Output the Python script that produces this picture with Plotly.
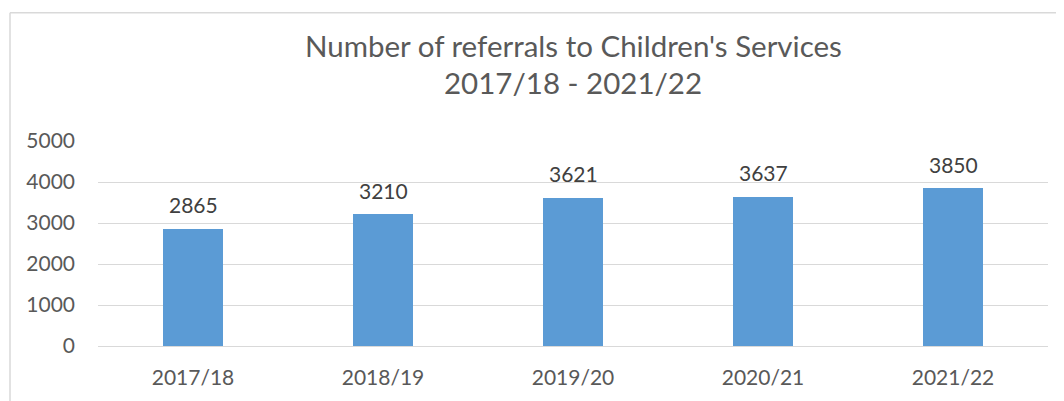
import plotly.graph_objects as go

categories = ["2017/18", "2018/19", "2019/20", "2020/21", "2021/22"]
referrals = [2865, 3210, 3621, 3637, 3850]
title_line1 = "Number of referrals to Children's Services"
title_line2 = "2017/18 - 2021/22"

# page body has an 8px margin; work in figure pixel coords (page - 8)
OFF = 8
W, H = 1064 - OFF, 401 - OFF
ml, mr, mt, mb = 98 - OFF, 16, 140.5 - OFF, 52
ph = H - mt - mb
pw = W - ml - mr

def py(p):
    return (H - mb - (p - OFF)) / ph

def px(p):
    return ((p - OFF) - ml) / pw

FONT = "Lato, Carlito, Calibri, sans-serif"

fig = go.Figure()
fig.add_trace(go.Bar(
    x=categories, y=referrals,
    marker=dict(color="#5B9BD5", line=dict(width=0)),
    width=0.316,
))

annotations = [
    dict(x=c, y=v, xref="x", yref="y", text=str(v), showarrow=False,
         yanchor="middle", xanchor="center", yshift=24,
         font=dict(family=FONT, size=21, color="#404040"))
    for c, v in zip(categories, referrals)
]
annotations += [
    dict(text=title_line1, x=0.5, xref="paper", y=py(43.5), yref="paper",
         showarrow=False, yanchor="middle", xanchor="center",
         font=dict(family=FONT, size=29.5, color="#595959")),
    dict(text=title_line2, x=0.5, xref="paper", y=py(81.5), yref="paper",
         showarrow=False, yanchor="middle", xanchor="center",
         font=dict(family=FONT, size=29.5, color="#595959")),
]

fig.update_layout(
    width=W, height=H,
    margin=dict(l=ml, r=mr, t=mt, b=mb),
    paper_bgcolor="white", plot_bgcolor="white",
    showlegend=False,
    font=dict(family=FONT, color="#595959"),
    bargap=0,
    xaxis=dict(
        showgrid=False, showline=False, zeroline=False,
        tickfont=dict(size=21, color="#595959"),
        ticks="", ticklabelstandoff=17,
    ),
    yaxis=dict(
        range=[0, 5000], tickvals=[0, 1000, 2000, 3000, 4000, 5000],
        showgrid=True, gridcolor="#D9D9D9", gridwidth=1,
        zeroline=True, zerolinecolor="#D9D9D9", zerolinewidth=1,
        showline=False, ticks="",
        tickfont=dict(size=21, color="#595959"),
        ticklabelstandoff=22,
    ),
    annotations=annotations,
    shapes=[
        dict(type="line", xref="paper", yref="paper",
             x0=px(10), x1=px(1064 + 5), y0=py(10), y1=py(10),
             line=dict(color="#D9D9D9", width=1.5)),
        dict(type="line", xref="paper", yref="paper",
             x0=px(10), x1=px(10), y0=py(10), y1=py(401 + 5),
             line=dict(color="#D9D9D9", width=1.5)),
    ],
)

fig.write_html("out.html")
